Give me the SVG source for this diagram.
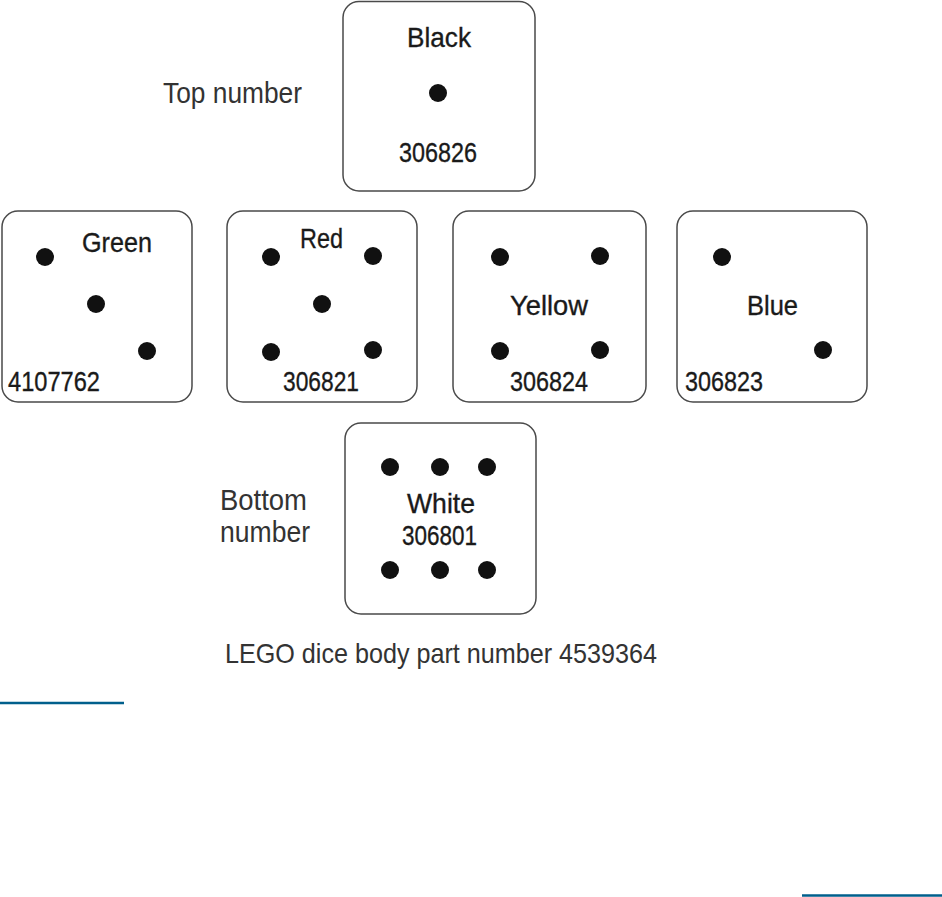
<svg xmlns="http://www.w3.org/2000/svg" width="942" height="897" viewBox="0 0 942 897">
<style>
.box{fill:#fff;stroke:#4a4a4a;stroke-width:1.5}
.pip{fill:#111}
.lbl{font-family:"Liberation Sans",Arial,sans-serif;font-size:28px;fill:#1a1a1a;stroke:#1a1a1a;stroke-width:0.35}
.side{font-family:"Liberation Sans",Arial,sans-serif;font-size:29px;fill:#333}
.cap{font-size:28px}
.rule{stroke:#005f8c;stroke-width:2.5}
</style>
<rect width="942" height="897" fill="#fff"/>
<g id="side-labels">
<text class="side" x="163" y="103" textLength="139" lengthAdjust="spacingAndGlyphs">Top number</text>
<text class="side" x="220" y="510" textLength="87" lengthAdjust="spacingAndGlyphs">Bottom</text>
<text class="side" x="220" y="542" textLength="90" lengthAdjust="spacingAndGlyphs">number</text>
<text class="side cap" x="225" y="663" textLength="432" lengthAdjust="spacingAndGlyphs">LEGO dice body part number 4539364</text>
</g>
<g id="face-black">
<rect class="box" x="343" y="1.5" width="192" height="189.5" rx="16"/>
<text class="lbl" x="407" y="47" textLength="64" lengthAdjust="spacingAndGlyphs">Black</text>
<circle class="pip" cx="438" cy="93" r="9"/>
<text class="lbl" x="399" y="162" textLength="78" lengthAdjust="spacingAndGlyphs">306826</text>
</g>
<g id="face-green">
<rect class="box" x="2" y="211" width="190" height="191" rx="16"/>
<text class="lbl" x="82" y="252" textLength="70" lengthAdjust="spacingAndGlyphs">Green</text>
<circle class="pip" cx="45" cy="257" r="9"/>
<circle class="pip" cx="96" cy="304" r="9"/>
<circle class="pip" cx="147" cy="351" r="9"/>
<text class="lbl" x="8" y="391" textLength="92" lengthAdjust="spacingAndGlyphs">4107762</text>
</g>
<g id="face-red">
<rect class="box" x="227" y="211" width="190" height="191" rx="16"/>
<text class="lbl" x="300" y="248" textLength="43" lengthAdjust="spacingAndGlyphs">Red</text>
<circle class="pip" cx="271" cy="257" r="9"/>
<circle class="pip" cx="373" cy="256" r="9"/>
<circle class="pip" cx="322" cy="304" r="9"/>
<circle class="pip" cx="271" cy="352" r="9"/>
<circle class="pip" cx="373" cy="350" r="9"/>
<text class="lbl" x="283" y="391" textLength="76" lengthAdjust="spacingAndGlyphs">306821</text>
</g>
<g id="face-yellow">
<rect class="box" x="453" y="211" width="193" height="191" rx="16"/>
<circle class="pip" cx="500" cy="257" r="9"/>
<circle class="pip" cx="600" cy="256" r="9"/>
<text class="lbl" x="510" y="315" textLength="78" lengthAdjust="spacingAndGlyphs">Yellow</text>
<circle class="pip" cx="500" cy="351" r="9"/>
<circle class="pip" cx="600" cy="350" r="9"/>
<text class="lbl" x="510" y="391" textLength="78" lengthAdjust="spacingAndGlyphs">306824</text>
</g>
<g id="face-blue">
<rect class="box" x="677" y="211" width="190" height="191" rx="16"/>
<circle class="pip" cx="722" cy="257" r="9"/>
<text class="lbl" x="747" y="315" textLength="51" lengthAdjust="spacingAndGlyphs">Blue</text>
<circle class="pip" cx="823" cy="350" r="9"/>
<text class="lbl" x="685" y="391" textLength="78" lengthAdjust="spacingAndGlyphs">306823</text>
</g>
<g id="face-white">
<rect class="box" x="345" y="423" width="191" height="191" rx="16"/>
<circle class="pip" cx="390" cy="467" r="9"/>
<circle class="pip" cx="440" cy="467" r="9"/>
<circle class="pip" cx="487" cy="467" r="9"/>
<text class="lbl" x="407" y="513" textLength="68" lengthAdjust="spacingAndGlyphs">White</text>
<text class="lbl" x="402" y="545" textLength="75" lengthAdjust="spacingAndGlyphs">306801</text>
<circle class="pip" cx="390" cy="570" r="9"/>
<circle class="pip" cx="440" cy="570" r="9"/>
<circle class="pip" cx="487" cy="570" r="9"/>
</g>
<g id="connectors">
<line class="rule" x1="0" y1="703" x2="124" y2="703"/>
<line class="rule" x1="802" y1="895.5" x2="942" y2="895.5"/>
</g>
</svg>
